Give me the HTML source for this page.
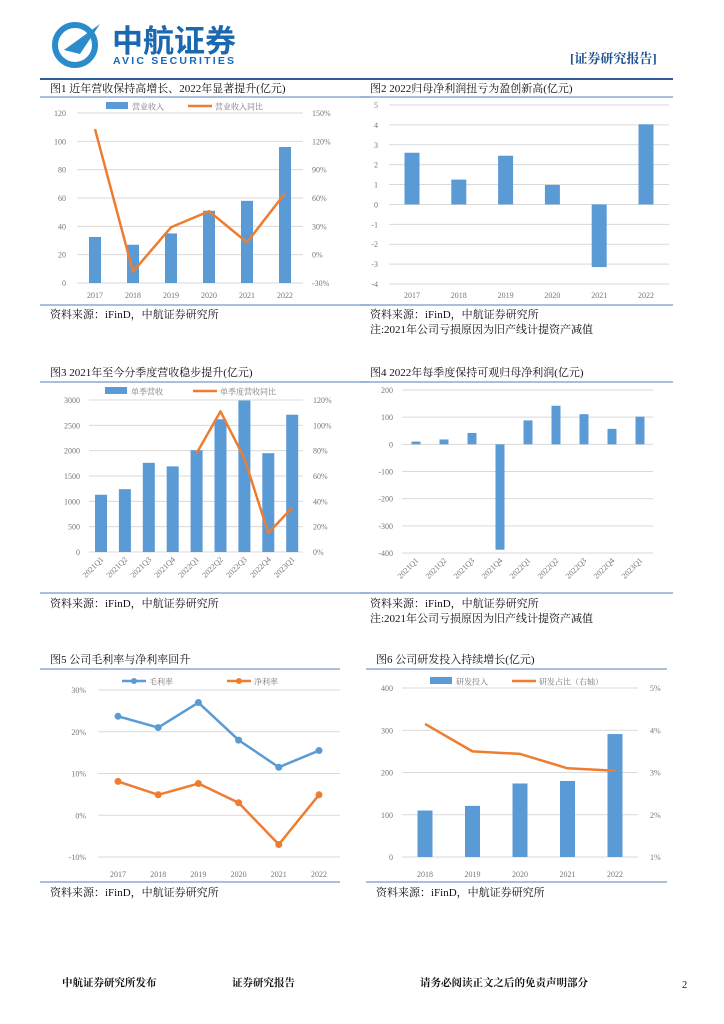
<!DOCTYPE html>
<html><head><meta charset="utf-8">
<style>
body{margin:0;background:#fff;}
svg{display:block;font-family:"Liberation Serif","Noto Serif CJK SC",serif;}
.ax{font-size:8px;fill:#777;}
.ttl{font-size:11px;fill:#111;}
.src{font-size:11px;fill:#111;}
</style></head>
<body>
<svg id="pg" width="724" height="1024" viewBox="0 0 724 1024">
<g>
 <circle cx="75" cy="45" r="20" fill="none" stroke="#2b8ccc" stroke-width="6"/>
 <path d="M64 50 L100 24 L80 54 Z" fill="#2b8ccc"/>
 <text x="112" y="52" font-family="Liberation Sans,Noto Sans CJK SC,sans-serif" font-weight="bold" font-size="31" fill="#1a68b0">中航证券</text>
 <text x="113" y="64" font-family="Liberation Sans,sans-serif" font-weight="bold" font-size="10.5" letter-spacing="2.2" fill="#1a68b0">AVIC SECURITIES</text>
 <text x="570" y="63" font-size="13" font-weight="bold" fill="#1a4f8a">[证券研究报告]</text>
 <rect x="40" y="78" width="633" height="2" fill="#2e5c9a"/>
</g>
<g id="charts"></g>
<g font-weight="bold" font-size="10.5" fill="#111">
 <text x="62" y="986">中航证券研究所发布</text>
 <text x="232" y="986">证券研究报告</text>
 <text x="420" y="986">请务必阅读正文之后的免责声明部分</text>
 <text x="682" y="988" font-weight="normal">2</text>
</g>
</svg>
<script>
const years6 = ["2017","2018","2019","2020","2021","2022"];
const revenue = [32.5,27,35,51,58,96];
const revenueYoY = [133,-18,29,46,13,65];
const c1LeftTicks = ["0","20","40","60","80","100","120"];
const c1RightTicks = ["-30%","0%","30%","60%","90%","120%","150%"];
const netProfit = [2.6,1.25,2.45,0.98,-3.15,4.03];
const c2Ticks = ["-4","-3","-2","-1","0","1","2","3","4","5"];
const quarters = ["2021Q1","2021Q2","2021Q3","2021Q4","2022Q1","2022Q2","2022Q3","2022Q4","2023Q1"];
const qRevenue = [1130,1240,1760,1690,2010,2620,2990,1950,2710];
const qRevenueYoY = [null,null,null,null,78,111,74,15,35];
const c3LeftTicks = ["0","500","1000","1500","2000","2500","3000"];
const c3RightTicks = ["0%","20%","40%","60%","80%","100%","120%"];
const qProfit = [10,18,42,-388,88,142,111,57,102];
const c4Ticks = ["-400","-300","-200","-100","0","100","200"];
const grossMargin = [23.7,21,27,18,11.5,15.5];
const netMargin = [8.1,4.9,7.6,3,-7,4.9];
const c5Ticks = ["-10%","0%","10%","20%","30%"];
const years5 = ["2018","2019","2020","2021","2022"];
const rdSpend = [110,121,174,180,291];
const rdRatio = [4.15,3.5,3.44,3.1,3.04];
const c6LeftTicks = ["0","100","200","300","400"];
const c6RightTicks = ["1%","2%","3%","4%","5%"];

const NS="http://www.w3.org/2000/svg";
const root=document.getElementById('charts');
function el(tag,attrs,parent,txt){const e=document.createElementNS(NS,tag);for(const k in attrs)e.setAttribute(k,attrs[k]);if(txt!=null)e.textContent=txt;(parent||root).appendChild(e);return e;}
const BLUE="#5b9bd5",ORANGE="#ed7d31";

function frame(g,x0,x1,titleY,ruleY,title,bottomY,srcY,note){
  const t=el('text',{x:x0+10,y:titleY,class:'ttl'},g,title);
  
  const r=el('line',{x1:x0,x2:x1,y1:ruleY,y2:ruleY,stroke:'#8eaad0','stroke-width':1.5},g);
  
  const b=el('line',{x1:x0,x2:x1,y1:bottomY,y2:bottomY,stroke:'#8eaad0','stroke-width':1.5},g);
  
  const s=el('text',{x:x0+10,y:srcY,class:'src'},g,'资料来源：iFinD，中航证券研究所');
  
  if(note){const n=el('text',{x:x0+10,y:srcY+15,class:'src'},g,note);
  }
}
function grid(g,ticks,lo,hi,px0,px1,yfn,lx,anchor){
  ticks.forEach((t,i)=>{const v=lo+(hi-lo)*i/(ticks.length-1);const y=yfn(v);
    const l=el('line',{x1:px0,x2:px1,y1:y,y2:y,stroke:'#d9d9d9','stroke-width':1},g);
    
    const tx=el('text',{x:lx,y:y+3,class:'ax','text-anchor':anchor},g,t);
    });
}
function rtick(g,ticks,rx,yfn,lo,hi){
  ticks.forEach((t,i)=>{const v=lo+(hi-lo)*i/(ticks.length-1);
    const tx=el('text',{x:rx,y:yfn(v)+3,class:'ax'},g,t);
    });
}
function xlabels(g,cats,xfn,y,rot){
  cats.forEach((c,i)=>{const x=xfn(i);let tx;
    if(rot){tx=el('text',{x:x+3,y:y,class:'ax','text-anchor':'end',transform:`rotate(-45 ${x+3} ${y})`},g,c);}
    else tx=el('text',{x:x,y:y,class:'ax','text-anchor':'middle'},g,c);
    });
}
function bars(g,vals,xfn,yfn,w,name){
  vals.forEach((v,i)=>{const y0=yfn(0),y=yfn(v);
    const r=el('rect',{x:xfn(i)-w/2,y:Math.min(y,y0),width:w,height:Math.abs(y0-y),fill:BLUE},g);
    });
}
function line(g,vals,xfn,yfn,col,name,dots){
  const pts=[];vals.forEach((v,i)=>{if(v!=null)pts.push([xfn(i),yfn(v)]);});
  const p=el('polyline',{points:pts.map(p=>p.join(',')).join(' '),fill:'none',stroke:col,'stroke-width':2.5,'stroke-linejoin':'round'},g);
  
  if(dots)pts.forEach(pt=>{const c=el('circle',{cx:pt[0],cy:pt[1],r:3.5,fill:col},g);
    });
}
function legend(g,items,y){
  items.forEach(it=>{
    let m;
    if(it.type==='bar')m=el('rect',{x:it.x,y:y-4,width:22,height:7,fill:BLUE},g);
    else{m=el('line',{x1:it.x,x2:it.x+24,y1:y,y2:y,stroke:it.col,'stroke-width':2.5},g);
      if(it.dot)el('circle',{cx:it.x+12,cy:y,r:3,fill:it.col},g);}
    
    const t=el('text',{x:it.x+(it.type==='bar'?26:27),y:y+3.5,class:'ax','font-size':'9'},g,it.label);
    });
}
function lin(d0,d1,p0,p1){return v=>p0+(v-d0)*(p1-p0)/(d1-d0);}

// Chart 1
{const g=el('g',{});
 frame(g,40,370,92,97,'图1 近年营收保持高增长、2022年显著提升(亿元)',305,318);
 const y=lin(0,120,283,113),y2=lin(-30,150,283,113),x=i=>95+i*38;
 grid(g,c1LeftTicks,0,120,77,303,y,66,'end');rtick(g,c1RightTicks,312,y2,-30,150);
 bars(g,revenue,x,y,12,'bar-revenue');line(g,revenueYoY,x,y2,ORANGE,'line-revenue-yoy');
 xlabels(g,years6,x,298);
 legend(g,[{type:'bar',x:106,label:'营业收入'},{type:'line',x:188,col:ORANGE,label:'营业收入同比'}],106);}
// Chart 2
{const g=el('g',{});
 frame(g,360,673,92,97,'图2 2022归母净利润扭亏为盈创新高(亿元)',305,318,'注:2021年公司亏损原因为旧产线计提资产减值');
 const y=lin(-4,5,284,105),x=i=>412+i*46.8;
 grid(g,c2Ticks,-4,5,389,669,y,378,'end');
 bars(g,netProfit,x,y,15,'bar-net-profit');xlabels(g,years6,x,298);}
// Chart 3
{const g=el('g',{});
 frame(g,40,370,376,382,'图3 2021年至今分季度营收稳步提升(亿元)',593,607);
 const y=lin(0,3000,552,400),y2=lin(0,120,552,400),x=i=>101+i*23.9;
 grid(g,c3LeftTicks,0,3000,89,303,y,80,'end');rtick(g,c3RightTicks,313,y2,0,120);
 bars(g,qRevenue,x,y,12,'bar-quarter-revenue');line(g,qRevenueYoY,x,y2,ORANGE,'line-quarter-yoy');
 xlabels(g,quarters,x,560,true);
 legend(g,[{type:'bar',x:105,label:'单季营收'},{type:'line',x:193,col:ORANGE,label:'单季度营收同比'}],391);}
// Chart 4
{const g=el('g',{});
 frame(g,360,673,376,382,'图4 2022年每季度保持可观归母净利润(亿元)',593,607,'注:2021年公司亏损原因为旧产线计提资产减值');
 const y=lin(-400,200,553,390),x=i=>416+i*28;
 grid(g,c4Ticks,-400,200,402,653,y,393,'end');
 bars(g,qProfit,x,y,9,'bar-quarter-profit');xlabels(g,quarters,x,561,true);}
// Chart 5
{const g=el('g',{});
 frame(g,40,340,663,669,'图5 公司毛利率与净利率回升',882,896);
 const y=lin(-10,30,857,690),x=i=>118+i*40.2;
 grid(g,c5Ticks,-10,30,98,340,y,86,'end');
 line(g,grossMargin,x,y,BLUE,'line-gross-margin',true);line(g,netMargin,x,y,ORANGE,'line-net-margin',true);
 xlabels(g,years6,x,877);
 legend(g,[{type:'line',dot:1,x:122,col:BLUE,label:'毛利率'},{type:'line',dot:1,x:227,col:ORANGE,label:'净利率'}],681);}
// Chart 6
{const g=el('g',{});
 frame(g,366,667,663,669,'图6 公司研发投入持续增长(亿元)',882,896);
 const y=lin(0,400,857,688),y2=lin(1,5,857,688),x=i=>425+i*47.5;
 grid(g,c6LeftTicks,0,400,402,638,y,393,'end');rtick(g,c6RightTicks,650,y2,1,5);
 bars(g,rdSpend,x,y,15,'bar-rd-spend');line(g,rdRatio,x,y2,ORANGE,'line-rd-ratio');
 xlabels(g,years5,x,877);
 legend(g,[{type:'bar',x:430,label:'研发投入'},{type:'line',x:512,col:ORANGE,label:'研发占比（右轴）'}],681);}
</script>
</body></html>
